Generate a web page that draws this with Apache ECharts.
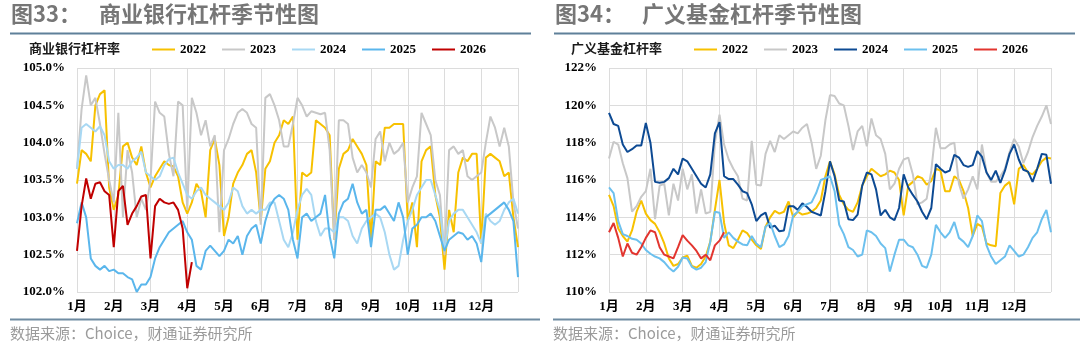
<!DOCTYPE html>
<html>
<head>
<meta charset="utf-8">
<script src="https://cdn.jsdelivr.net/npm/echarts@6/dist/echarts.min.js"></script>
<style>
  html, body { margin: 0; padding: 0; background: #fff; }
  #wrap { position: relative; width: 1080px; height: 349px; overflow: hidden; }
  .panel { position: absolute; top: 0; width: 540px; height: 349px; }
  #bank { left: 0; }
  #fund { left: 540px; }
</style>
</head>
<body>
<div id="wrap">
  <div id="bank" class="panel"></div>
  <div id="fund" class="panel"></div>
</div>
<script>
// Seasonal leverage series: one value every 1/8 month, starting at 1 January.
const STEPS_PER_MONTH = 8;
const monthLabels = ['1月','2月','3月','4月','5月','6月','7月','8月','9月','10月','11月','12月'];
const years = ['2022', '2023', '2024', '2025', '2026'];

// 商业银行杠杆率 (%)
const bank2022 = [103.45,103.9,103.85,103.75,104.5,104.65,104.7,103.4,103.1,103.3,103.95,104.0,103.8,103.7,103.95,103.6,
  103.4,103.55,103.65,103.75,103.7,103.68,103.55,103.2,103.05,103.2,103.45,103.35,103.0,103.9,104.05,103.7,
  102.75,103.0,103.45,103.6,103.7,103.85,103.9,103.6,102.95,103.65,103.75,104.0,104.1,104.3,104.25,104.35,
  102.7,103.6,103.55,103.6,104.3,104.25,104.2,104.1,102.7,103.65,103.85,103.9,104.05,103.95,103.85,103.7,
  102.7,103.75,103.7,104.2,104.2,104.25,104.25,104.25,102.95,103.2,102.6,103.75,103.9,103.95,103.3,103.0,
  102.3,103.1,102.8,103.6,103.8,103.75,103.85,103.85,102.65,103.8,103.85,103.8,103.75,103.55,103.6,103.0,102.6];
const bank2023 = [103.65,104.45,104.9,104.5,104.6,104.25,103.85,103.5,103.2,104.4,103.0,103.9,103.6,103.0,103.25,103.1,
  103.5,104.55,104.4,104.35,103.85,103.55,104.55,104.5,103.1,104.6,104.4,104.1,104.3,103.95,104.1,102.8,
  103.9,104.05,104.25,104.4,104.45,104.4,104.25,104.2,102.9,104.6,104.65,104.5,104.3,103.95,103.95,104.25,
  104.6,104.5,104.35,104.42,104.4,104.38,104.4,103.9,102.7,104.3,104.3,104.25,103.8,103.6,103.7,103.6,
  103.4,104.05,104.15,103.75,104.0,103.85,103.9,104.0,103.2,103.4,103.55,104.4,104.25,104.1,103.5,103.3,
  102.5,103.9,103.95,103.85,103.9,103.55,103.5,103.55,103.6,104.0,104.35,104.2,103.95,104.2,103.95,103.2,102.85];
const bank2024 = [103.65,104.2,104.25,104.2,104.15,104.22,104.1,103.75,103.65,103.7,103.7,103.65,103.75,103.8,103.88,103.6,
  103.55,103.5,103.55,103.7,103.78,103.8,103.6,103.45,103.3,103.25,103.35,103.4,103.3,103.25,103.2,103.15,
  103.1,103.2,103.4,103.35,103.15,103.05,103.1,103.05,103.1,103.1,103.2,103.2,102.95,102.7,102.6,102.8,
  103.1,103.3,103.38,103.3,102.95,102.75,102.85,102.85,102.8,103.0,103.0,102.95,102.75,102.65,102.85,102.95,
  103.0,103.05,103.0,102.8,102.5,102.3,102.35,102.7,102.95,103.1,103.3,103.4,103.5,103.5,103.3,103.1,
  102.55,102.95,103.05,103.1,103.1,103.0,102.9,102.8,102.65,103.05,102.95,102.9,102.95,103.1,103.2,103.25,103.05];
const bank2025 = [102.92,103.2,103.0,102.45,102.35,102.3,102.35,102.28,102.3,102.25,102.25,102.2,102.17,102.0,102.1,102.1,
  102.2,102.45,102.6,102.7,102.8,102.85,102.9,102.95,102.8,102.7,102.35,102.3,102.55,102.62,102.55,102.48,
  102.55,102.7,102.65,102.75,102.5,102.75,102.85,102.9,102.65,102.95,103.15,103.25,103.3,103.25,103.1,102.7,
  102.45,103.0,103.05,102.95,103.0,103.05,103.3,102.75,102.45,103.05,103.2,103.25,103.45,103.2,103.05,103.1,
  102.6,103.1,103.1,103.15,103.05,102.95,103.2,103.0,102.5,102.85,102.9,103.0,103.0,103.05,102.95,102.75,
  102.55,102.7,102.75,102.8,102.78,102.7,102.75,102.65,102.4,103.0,103.05,103.1,103.15,103.2,103.1,102.95,102.2];
const bank2026 = [102.55,103.15,103.52,103.25,103.45,103.47,103.35,103.3,102.6,103.35,103.42,102.9,103.05,103.15,103.28,103.3,
  102.45,103.15,103.25,103.2,103.18,103.2,103.1,102.85,102.05,102.4];

// 广义基金杠杆率 (%)
const fund2022 = [115.2,114.6,113.4,113.0,112.7,113.3,114.3,114.9,114.2,113.85,113.65,113.2,112.6,111.8,111.4,111.5,
  111.85,111.95,111.4,111.3,111.5,111.9,112.7,114.4,116.0,113.7,112.5,112.35,112.8,113.3,113.15,112.8,
  112.5,112.3,113.5,114.0,114.35,114.2,114.3,114.85,114.0,114.3,114.15,114.2,114.3,114.5,114.9,116.2,
  117.0,116.3,115.2,114.7,114.4,114.3,114.8,115.7,116.2,116.6,116.4,116.2,116.3,116.5,116.4,116.0,
  114.1,115.7,115.9,116.2,116.1,115.75,115.95,116.6,116.5,115.4,115.4,116.2,116.0,115.4,114.5,113.0,
  113.65,113.5,112.6,112.5,112.45,115.3,115.7,115.9,114.7,116.6,116.8,116.4,116.3,116.6,117.0,117.2,117.15];
const fund2023 = [117.15,118.05,117.9,116.9,116.1,114.3,114.6,115.1,115.4,116.6,113.9,115.7,115.8,114.1,115.8,114.9,
  116.6,115.5,116.3,114.2,115.5,114.2,114.3,118.0,119.5,117.9,117.1,116.6,116.2,115.0,114.9,118.1,
  115.75,115.7,117.4,118.1,117.5,118.4,118.2,118.4,118.6,118.5,118.8,119.0,118.0,116.6,117.3,119.2,
  120.55,120.5,120.1,120.0,118.9,117.6,118.6,118.9,117.8,119.3,118.4,118.2,117.4,115.5,115.8,116.6,
  117.1,117.2,116.3,114.7,114.8,115.0,116.5,118.8,117.7,117.7,117.9,118.0,115.8,115.0,115.5,116.2,
  115.5,117.9,116.4,115.9,115.9,116.2,116.6,117.5,118.2,117.8,116.9,117.5,118.3,118.9,119.4,120.0,119.0];
const fund2024 = [119.6,119.0,118.9,117.9,117.5,117.65,117.85,117.85,119.05,118.0,115.9,115.85,115.9,116.1,116.6,116.3,
  117.15,117.0,116.6,116.2,115.8,115.6,116.3,118.5,119.1,116.2,116.05,116.05,115.75,115.4,115.3,114.7,
  113.8,114.1,114.25,113.45,113.55,113.25,113.3,114.6,114.6,114.4,114.75,114.55,114.3,114.2,114.1,115.4,
  117.0,116.2,114.9,114.85,113.9,113.85,114.15,115.7,116.4,116.3,115.5,114.1,114.4,114.0,113.85,114.5,
  116.3,115.6,115.2,114.85,114.3,113.9,114.5,116.85,116.6,116.4,116.5,117.35,117.2,116.8,116.7,116.8,
  117.55,117.25,116.4,116.0,116.5,115.85,116.5,117.4,117.9,117.1,116.55,116.45,115.9,116.6,117.4,117.35,115.8];
const fund2025 = [115.6,115.3,113.8,113.1,113.0,112.85,112.8,112.6,112.25,112.05,111.9,111.8,111.6,111.3,111.1,111.35,
  111.85,111.8,111.35,111.2,111.3,111.6,112.7,114.3,114.25,112.9,113.2,112.9,112.7,112.55,112.5,113.0,
  112.6,112.4,113.5,113.7,113.0,112.4,112.55,113.0,114.1,114.3,114.6,114.7,114.8,115.3,116.0,116.1,
  116.2,115.4,113.6,113.1,112.4,112.25,111.9,112.0,113.3,113.2,113.0,112.6,112.35,111.1,112.0,112.8,
  112.8,112.5,112.4,112.0,111.4,111.3,112.0,113.6,113.2,112.9,113.2,113.75,112.9,112.7,112.4,113.0,
  114.1,113.8,112.5,111.9,111.5,111.7,111.9,112.5,112.2,111.9,112.0,112.4,112.9,113.2,113.9,114.4,113.2];
const fund2026 = [113.2,113.7,112.9,111.9,112.6,112.1,112.0,112.4,112.9,113.3,113.2,112.4,112.0,111.9,111.8,112.4,
  113.05,112.75,112.5,112.2,111.8,112.0,111.7,112.5,112.75,113.2];

const bankColors = ['#F7C100', '#C8C8C8', '#A8D8F3', '#5AB6EC', '#C00000'];
const fundColors = ['#F7C100', '#C8C8C8', '#0D4A93', '#6CC0EE', '#E2352F'];

const SERIF = "'Liberation Serif', 'Times New Roman', 'Noto Sans CJK SC', serif";
const SANS = "'Noto Sans CJK SC', 'Noto Sans', sans-serif";

function toPoints(vals) {
  return vals.map((v, i) => [i / STEPS_PER_MONTH, v]);
}

function buildPanel(el, cfg) {
  const chart = echarts.init(el, null, { renderer: 'canvas' });
  const series = cfg.data.map((vals, k) => ({
    name: years[k],
    type: 'line',
    data: toPoints(vals),
    showSymbol: false,
    symbol: 'none',
    smooth: false,
    color: cfg.colors[k],
    itemStyle: { color: cfg.colors[k] },
    lineStyle: { width: 2, color: cfg.colors[k] },
    emphasis: { disabled: true },
    z: 2 + k
  }));

  chart.setOption({
    animation: false,
    title: [
      { text: cfg.figNo, left: cfg.figLeft, top: 3, padding: 0,
        textStyle: { fontFamily: SANS, fontSize: 22, fontWeight: 'bold', color: '#767676' } },
      { text: cfg.title, left: cfg.titleLeft, top: 3, padding: 0,
        textStyle: { fontFamily: SANS, fontSize: 22, fontWeight: 'bold', color: '#767676' } },
      { text: cfg.caption, left: cfg.captionLeft, top: 42, padding: 0,
        textStyle: { fontFamily: SANS, fontSize: 13, fontWeight: 'bold', color: '#1a1a1a' } },
      { text: '数据来源：Choice，财通证券研究所', left: cfg.sourceLeft, top: 326, padding: 0,
        textStyle: { fontFamily: SANS, fontSize: 15, fontWeight: 'normal', color: '#9b9b9b' } }
    ],
    graphic: [
      { type: 'line', silent: true, shape: { x1: cfg.topRule[0], y1: 33.5, x2: cfg.topRule[1], y2: 33.5 },
        style: { stroke: '#5f8099', lineWidth: 2 } },
      { type: 'line', silent: true, shape: { x1: cfg.bottomRule[0], y1: 319.5, x2: cfg.bottomRule[1], y2: 319.5 },
        style: { stroke: '#6f8ba1', lineWidth: 2 } }
    ],
    legend: {
      left: cfg.legendLeft, top: 43, padding: 0,
      icon: 'rect', itemWidth: 23, itemHeight: 2, itemGap: 16,
      selectedMode: false,
      data: years,
      textStyle: { fontFamily: SERIF, fontSize: 13, fontWeight: 'bold', color: '#000' }
    },
    grid: { left: cfg.gridLeft, right: cfg.gridRight, top: 68, bottom: 57, containLabel: false },
    xAxis: {
      type: 'value', min: 0, max: 12, interval: 1,
      axisLine: { show: false }, axisTick: { show: false },
      splitLine: { show: true, lineStyle: { color: '#dcdcdc', width: 1 } },
      axisLabel: {
        margin: 8, fontFamily: SERIF, fontSize: 13, fontWeight: 'bold', color: '#000',
        formatter: v => (v < 12 ? monthLabels[v] : '')
      }
    },
    yAxis: {
      type: 'value', min: cfg.yMin, max: cfg.yMax, interval: cfg.yStep,
      axisLine: { show: false }, axisTick: { show: false },
      splitLine: { show: true, lineStyle: { color: '#dcdcdc', width: 1 } },
      axisLabel: {
        margin: 12, fontFamily: SERIF, fontSize: 13, fontWeight: 'bold', color: '#000',
        formatter: cfg.yFormat
      }
    },
    series
  });
  return chart;
}

buildPanel(document.getElementById('bank'), {
  figNo: '图33：', figLeft: 11, title: '商业银行杠杆季节性图', titleLeft: 99,
  caption: '商业银行杠杆率', captionLeft: 29, sourceLeft: 10,
  topRule: [10, 531], bottomRule: [10, 540],
  legendLeft: 152, gridLeft: 77, gridRight: 22,
  yMin: 102, yMax: 105, yStep: 0.5, yFormat: v => v.toFixed(1) + '%',
  colors: bankColors,
  data: [bank2022, bank2023, bank2024, bank2025, bank2026]
});

buildPanel(document.getElementById('fund'), {
  figNo: '图34：', figLeft: 15, title: '广义基金杠杆季节性图', titleLeft: 102,
  caption: '广义基金杠杆率', captionLeft: 31, sourceLeft: 13,
  topRule: [14, 535], bottomRule: [13, 540],
  legendLeft: 154, gridLeft: 69, gridRight: 29,
  yMin: 110, yMax: 122, yStep: 2, yFormat: v => v + '%',
  colors: fundColors,
  data: [fund2022, fund2023, fund2024, fund2025, fund2026]
});
</script>
</body>
</html>
